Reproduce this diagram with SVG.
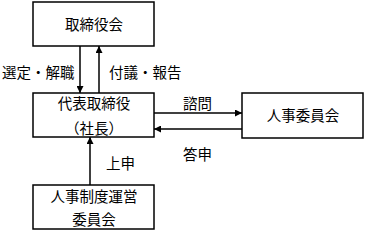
<svg xmlns="http://www.w3.org/2000/svg" width="365" height="231" viewBox="0 0 365 231">
<style>
.box{fill:#fff;stroke:#000;stroke-width:1.5}
text{font-family:"Noto Sans CJK JP","Noto Sans CJK SC",sans-serif;font-size:14.5px;fill:#000}
.c{text-anchor:middle}
.ln{stroke:#000;stroke-width:1.5;fill:none}
</style>
<defs>
<marker id="ah" viewBox="0 0 10 10" refX="10" refY="5" markerWidth="7" markerHeight="7" markerUnits="userSpaceOnUse" orient="auto"><path d="M0,0 L10,5 L0,10 z" fill="#000"/></marker>
</defs>
<g id="connectors">
<line class="ln" x1="80" y1="46" x2="80" y2="93" marker-end="url(#ah)"/>
<line class="ln" x1="99" y1="93" x2="99" y2="46" marker-end="url(#ah)"/>
<line class="ln" x1="154" y1="113" x2="242" y2="113" marker-end="url(#ah)"/>
<line class="ln" x1="242" y1="129" x2="154" y2="129" marker-end="url(#ah)"/>
<line class="ln" x1="90" y1="185" x2="90" y2="137" marker-end="url(#ah)"/>
<text x="2" y="78">選定・解職</text>
<text x="109" y="78">付議・報告</text>
<text x="183" y="109">諮問</text>
<text x="183" y="160">答申</text>
<text x="106" y="169">上申</text>
</g>
<g id="board"><rect class="box" x="33" y="2" width="121" height="44"/><text class="c" x="94" y="30">取締役会</text></g>
<g id="president"><rect class="box" x="33" y="93" width="121" height="44"/><text class="c" x="94" y="109">代表取締役</text><text class="c" x="94" y="134">（社長）</text></g>
<g id="hr-committee"><rect class="box" x="242" y="93" width="121" height="45"/><text class="c" x="303" y="121">人事委員会</text></g>
<g id="hr-system-committee"><rect class="box" x="33" y="185" width="121" height="44"/><text class="c" x="94" y="202">人事制度運営</text><text class="c" x="94" y="225">委員会</text></g>
</svg>
